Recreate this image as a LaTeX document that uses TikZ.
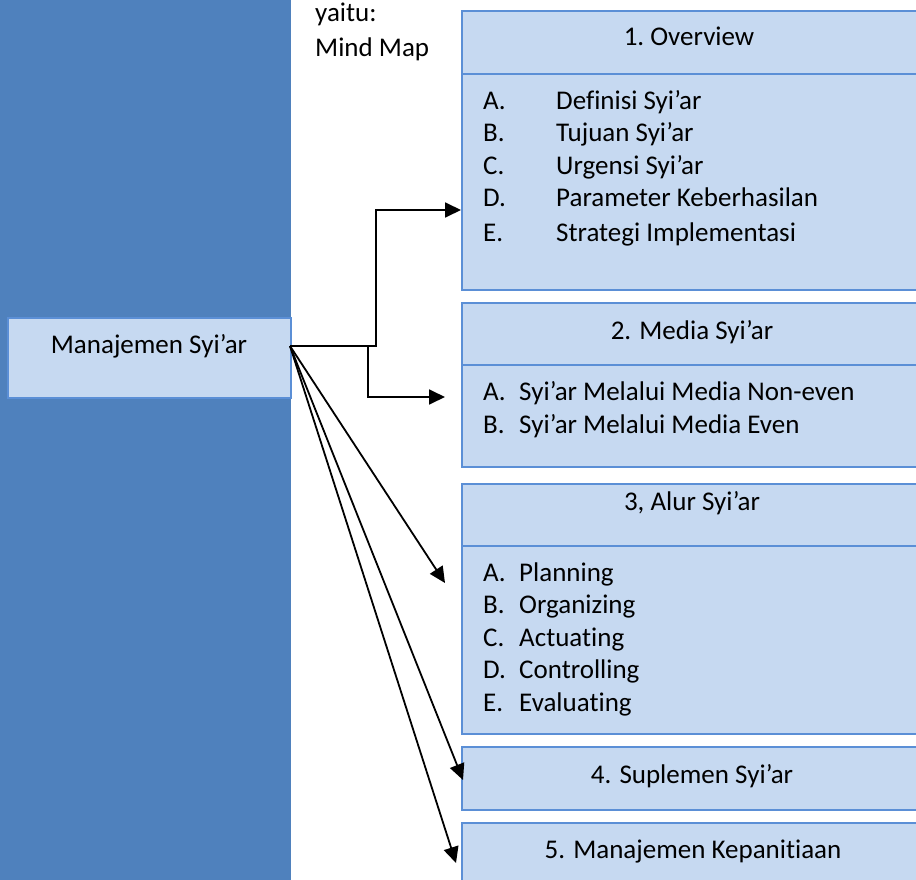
\documentclass[tikz,border=0pt]{standalone}
\usepackage{fontspec}
\setmainfont{Carlito}[Ligatures=NoCommon]
\usetikzlibrary{arrows.meta}
\definecolor{band}{HTML}{4F81BD}
\definecolor{boxfill}{HTML}{C6D9F1}
\definecolor{boxline}{HTML}{5B8FD6}
\begin{document}
\begin{tikzpicture}[x=1pt,y=-1pt,
  panel/.style={draw=boxline,line width=2pt,fill=boxfill,rectangle,inner sep=0pt,
    anchor=north west,minimum width=464pt},
  txt/.style={inner sep=0pt,font=\fontsize{27}{32.5}\selectfont},
  lbl/.style={txt,anchor=base west},
  ttl/.style={txt,anchor=base},
  link/.style={line width=1.8pt,-{Triangle[length=16pt,width=15pt]}}]
\useasboundingbox (0,0) rectangle (916,880);

% dark side band
\fill[band] (0,0) rectangle (291,880);

% root node
\node[draw=boxline,line width=1.5pt,fill=boxfill,rectangle,inner sep=0pt,
  anchor=north west,minimum width=283pt,minimum height=80pt] (root) at (7,317) {};
\node[ttl] (rootlbl) at (149,353) {Manajemen Syi’ar};

% caption
\node[lbl] (cap1) at (315,22) {yaitu:};
\node[lbl] (cap2) at (315,57) {Mind Map};

% panel 1
\node[panel,minimum height=63pt] (h1) at (461,10) {};
\node[panel,minimum height=216pt] (b1) at (461,73) {};
\node[ttl] (t1) at (689,46) {1.\ Overview};
\node[lbl] (k1a) at (483,110) {A.};
\node[lbl] (k1b) at (483,142) {B.};
\node[lbl] (k1c) at (483,175) {C.};
\node[lbl] (k1d) at (483,207) {D.};
\node[lbl] (k1e) at (483,241) {E.};
\node[lbl] (i1a) at (556,110) {Definisi Syi’ar};
\node[lbl] (i1b) at (556,142) {Tujuan Syi’ar};
\node[lbl] (i1c) at (556,175) {Urgensi Syi’ar};
\node[lbl] (i1d) at (556,207) {Parameter Keberhasilan};
\node[lbl] (i1e) at (556,241) {Strategi Implementasi};

% panel 2
\node[panel,minimum height=62pt] (h2) at (461,302) {};
\node[panel,minimum height=102pt] (b2) at (461,364) {};
\node[ttl] (t2) at (692,339) {2. Media Syi’ar};
\node[lbl] (k2a) at (483,400) {A.};
\node[lbl] (k2b) at (483,433) {B.};
\node[lbl] (i2a) at (519,400) {Syi’ar Melalui Media Non-even};
\node[lbl] (i2b) at (519,433) {Syi’ar Melalui Media Even};

% panel 3
\node[panel,minimum height=62pt] (h3) at (461,483) {};
\node[panel,minimum height=188pt] (b3) at (461,545) {};
\node[ttl] (t3) at (692,510) {3, Alur Syi’ar};
\node[lbl] (k3a) at (483,581) {A.};
\node[lbl] (k3b) at (483,613) {B.};
\node[lbl] (k3c) at (483,646) {C.};
\node[lbl] (k3d) at (483,678) {D.};
\node[lbl] (k3e) at (483,711) {E.};
\node[lbl] (i3a) at (519,581) {Planning};
\node[lbl] (i3b) at (519,613) {Organizing};
\node[lbl] (i3c) at (519,646) {Actuating};
\node[lbl] (i3d) at (519,678) {Controlling};
\node[lbl] (i3e) at (519,711) {Evaluating};

% panel 4
\node[panel,minimum height=63pt] (h4) at (461,746) {};
\node[ttl] (t4) at (692,783) {4. Suplemen Syi’ar};

% panel 5
\node[panel,minimum height=70pt] (h5) at (461,822) {};
\node[ttl] (t5) at (693,858) {5. Manajemen Kepanitiaan};

% connector end points
\coordinate (src) at (290,346);
\coordinate (e1) at (461,210);
\coordinate (e2) at (445,397);
\coordinate (e3) at (445,583);
\coordinate (e4) at (463,780);
\coordinate (e5) at (456,863);
\coordinate (j1) at (376,346);
\coordinate (j2) at (368,346);

% connectors
\draw[link] (src) -- (j1) |- (e1);
\draw[link] (j2) |- (e2);
\draw[link] (src) -- (e3);
\draw[link] (src) -- (e4);
\draw[link] (src) -- (e5);
\end{tikzpicture}
\end{document}
